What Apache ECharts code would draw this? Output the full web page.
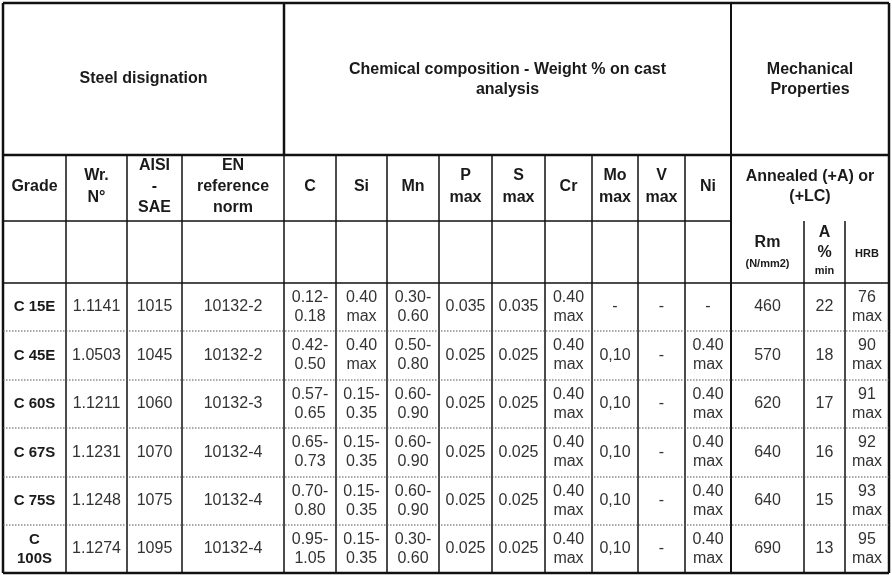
<!DOCTYPE html>
<html><head><meta charset="utf-8">
<script src="https://cdn.jsdelivr.net/npm/echarts@6/dist/echarts.min.js"></script>
<style>html,body{margin:0;background:#fff}#c{width:892px;height:575px}</style>
</head><body><div id="c"></div>
<script>
// table values, one array per column
var grade = ['C 15E', 'C 45E', 'C 60S', 'C 67S', 'C 75S', 'C\n100S'];
var wrNo = ['1.1141', '1.0503', '1.1211', '1.1231', '1.1248', '1.1274'];
var aisi = ['1015', '1045', '1060', '1070', '1075', '1095'];
var enNorm = ['10132-2', '10132-2', '10132-3', '10132-4', '10132-4', '10132-4'];
var cC = ['0.12-\n0.18', '0.42-\n0.50', '0.57-\n0.65', '0.65-\n0.73', '0.70-\n0.80', '0.95-\n1.05'];
var si = ['0.40\nmax', '0.40\nmax', '0.15-\n0.35', '0.15-\n0.35', '0.15-\n0.35', '0.15-\n0.35'];
var mn = ['0.30-\n0.60', '0.50-\n0.80', '0.60-\n0.90', '0.60-\n0.90', '0.60-\n0.90', '0.30-\n0.60'];
var pMax = ['0.035', '0.025', '0.025', '0.025', '0.025', '0.025'];
var sMax = ['0.035', '0.025', '0.025', '0.025', '0.025', '0.025'];
var cr = ['0.40\nmax', '0.40\nmax', '0.40\nmax', '0.40\nmax', '0.40\nmax', '0.40\nmax'];
var mo = ['-', '0,10', '0,10', '0,10', '0,10', '0,10'];
var vMax = ['-', '-', '-', '-', '-', '-'];
var ni = ['-', '0.40\nmax', '0.40\nmax', '0.40\nmax', '0.40\nmax', '0.40\nmax'];
var rm = ['460', '570', '620', '640', '640', '690'];
var aPct = ['22', '18', '17', '16', '15', '13'];
var hrb = ['76\nmax', '90\nmax', '91\nmax', '92\nmax', '93\nmax', '95\nmax'];
var colHeads = ['Grade', 'Wr.\nN°', 'AISI\n-\nSAE', 'EN\nreference\nnorm', 'C', 'Si', 'Mn',
  'P\nmax', 'S\nmax', 'Cr', 'Mo\nmax', 'V\nmax', 'Ni'];

var columns = [grade, wrNo, aisi, enNorm, cC, si, mn, pMax, sMax, cr, mo, vMax, ni, rm, aPct, hrb];
var xs = [3, 66, 127, 182, 284, 336, 387, 439, 492, 545, 592, 638, 685, 731, 804, 845, 889];
var ys = [3, 155, 221, 283, 331, 380, 428, 477, 525, 573];
var font = 'Liberation Sans, Arial, sans-serif';
var g = [];

function line(x1, y1, x2, y2, w, dash) {
  g.push({type: 'line', shape: {x1: x1, y1: y1, x2: x2, y2: y2},
    style: {stroke: dash ? '#555' : '#111', lineWidth: w, lineDash: dash ? [1.5, 1.5] : null}});
}
function text(x, y, s, size, bold, lh, color) {
  g.push({type: 'text', x: x, y: y, style: {text: s, fill: color || '#1a1a1a', font: (bold ? 'bold ' : '') + size + 'px ' + font,
    align: 'center', verticalAlign: 'middle', lineHeight: lh || size + 4}});
}

// header texts
text((3 + 284) / 2, 79, 'Steel disignation', 16, true);
text((284 + 731) / 2, 80, 'Chemical composition - Weight % on cast\nanalysis', 16, true, 20);
text((731 + 889) / 2, 80, 'Mechanical\nProperties', 16, true, 20);
colHeads.forEach(function (h, i) {
  text((xs[i] + xs[i + 1]) / 2, 187, h, 16, true, h.split('\n').length > 2 ? 21 : 22);
});
text((731 + 889) / 2, 187, 'Annealed (+A) or\n(+LC)', 16, true, 20);
text((731 + 804) / 2, 243, 'Rm', 16, true);
text((731 + 804) / 2, 264, '(N/mm2)', 11, true);
text((804 + 845) / 2, 233, 'A', 16, true);
text((804 + 845) / 2, 253, '%', 16, true);
text((804 + 845) / 2, 271, 'min', 11, true);
text((845 + 889) / 2, 254, 'HRB', 11, true);

// body
columns.forEach(function (col, c) {
  col.forEach(function (v, r) {
    var cy = (ys[r + 3] + ys[r + 4]) / 2;
    text((xs[c] + xs[c + 1]) / 2, cy, v, c === 0 ? 15 : 16, c === 0, 19, c === 0 ? '#1a1a1a' : '#333');
  });
});

// grid lines
line(3, 3, 889, 3, 2.5); line(3, 573, 889, 573, 2.5);
line(3, 3, 3, 573, 2.5); line(889, 3, 889, 573, 2.5);
line(284, 3, 284, 155, 2.5); line(731, 3, 731, 573, 2);
line(3, 155, 889, 155, 2.5);
line(3, 221, 731, 221, 1.5);
line(3, 283, 889, 283, 1.5);
for (var i = 1; i < 13; i++) line(xs[i], 155, xs[i], 573, 1.5);
line(804, 221, 804, 573, 1.5); line(845, 221, 845, 573, 1.5);
for (var r = 4; r < 9; r++) line(3, ys[r], 889, ys[r], 1, true);

var chart = echarts.init(document.getElementById('c'));
chart.setOption({backgroundColor: '#fff', animation: false, graphic: g});
</script></body></html>
